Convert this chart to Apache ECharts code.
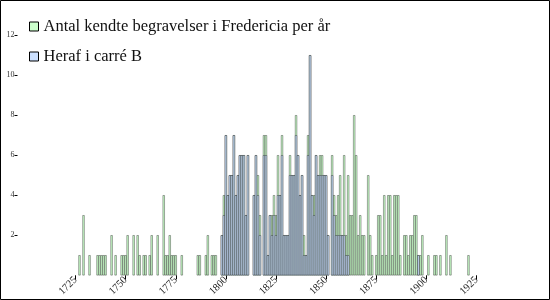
<!DOCTYPE html>
<html><head><meta charset="utf-8">
<script src="https://cdn.jsdelivr.net/npm/echarts@6/dist/echarts.min.js"></script>
<style>html,body{margin:0;padding:0;background:#fff}#c{width:550px;height:300px}</style>
</head><body><div id="c"></div>
<script>
const years = [1727,1729,1732,1736,1737,1738,1739,1740,1743,1745,1748,1749,1750,1751,1754,1756,1757,1759,1760,1762,1763,1766,1769,1770,1771,1772,1773,1774,1775,1778,1786,1787,1790,1791,1793,1794,1795,1798,1799,
1800,1801,1802,1803,1804,1805,1806,1807,1808,1809,1810,1811,1814,1815,1816,1817,1819,1820,1821,1822,1823,1824,1825,1826,1827,1828,1829,1830,1831,1832,1833,1834,1835,1836,1837,1838,1839,1840,1841,1842,1843,1844,1845,1846,1847,1848,1849,1850,1851,1853,1854,1855,1856,1857,1858,1859,1860,1861,1862,1863,1864,1865,1866,1867,1868,1869,1871,1872,1873,1875,1876,1877,1878,1879,1880,1881,1882,1883,1884,1885,1886,1887,1889,1890,1891,1892,1893,1894,1895,1896,1897,1898,1901,1904,1905,1907,1910,1912,1921];
const totalBurials = [1,3,1,1,1,1,1,1,2,1,1,1,1,2,2,2,1,1,1,1,2,2,4,1,1,2,1,1,1,1,1,1,1,2,1,1,1,2,4,
7,4,5,5,7,4,5,6,6,6,3,6,4,6,5,3,7,7,1,3,3,4,3,6,4,7,2,2,2,6,5,5,8,6,4,5,2,1,7,11,4,4,6,5,6,6,5,5,2,6,4,3,4,5,2,6,2,5,3,3,8,6,2,3,2,2,5,2,1,1,3,3,1,4,1,4,4,1,4,4,4,1,2,2,1,2,2,3,3,1,1,2,1,1,1,1,2,1,1];
const carreB = [0,0,0,0,0,0,0,0,0,0,0,0,0,0,0,0,0,0,0,0,0,0,0,0,0,0,0,0,0,0,0,0,0,0,0,0,0,2,3,
7,4,5,5,7,4,5,6,6,6,3,6,4,6,4,2,6,6,1,3,2,3,2,4,4,6,2,2,2,5,5,5,7,6,4,5,1,1,6,11,4,3,6,5,5,5,5,5,2,5,3,2,2,2,2,2,1,1,0,0,0,0,0,0,0,0,0,0,0,0,0,0,0,0,0,0,0,0,0,0,0,0,0,0,0,0,0,0,0,1,0,0,0,0,0,0,0,0];
const yTicks = [2,4,6,8,10,12];
const xTicks = [1725,1750,1775,1800,1825,1850,1875,1900,1925];
const seriesNames = ['Antal kendte begravelser i Fredericia per år', 'Heraf i carré B'];

const totalData = years.map((y,i)=>[y,totalBurials[i]]);
const bData = years.map((y,i)=>[y,carreB[i]]).filter(d=>d[1]>0);
const serif = '"Liberation Serif", "DejaVu Serif", serif';
const chart = echarts.init(document.getElementById('c'));
chart.setOption({
  animation:false,
  backgroundColor:'#fff',
  graphic:[{type:'rect',shape:{x:0.5,y:0.5,width:549,height:299},style:{fill:'none',stroke:'#000',lineWidth:1},z:100}],
  legend:{
    orient:'vertical', left:29, top:18, padding:0, itemWidth:9, itemHeight:9, itemGap:13,
    icon:'rect',
    itemStyle:{borderWidth:1,borderColor:'#000'},
    textStyle:{fontFamily:serif,fontSize:16.5,color:'#111'},
    data:seriesNames
  },
  grid:{left:75.5,right:73.5,top:35.3,bottom:24.7,containLabel:false},
  xAxis:{type:'value',min:1725,max:1925,interval:25,
    axisLine:{show:false},splitLine:{show:false},
    axisTick:{show:true,length:4,lineStyle:{color:'#000'},customValues:xTicks},
    axisLabel:{rotate:45,margin:3,fontFamily:serif,fontSize:10.5,color:'#222',customValues:xTicks,formatter:v=>String(v)}
  },
  yAxis:{type:'value',min:0,max:12,interval:2,offset:58,
    axisLine:{show:false},splitLine:{show:false},
    axisTick:{show:true,length:3,lineStyle:{color:'#000'},customValues:yTicks},
    axisLabel:{margin:3,fontFamily:serif,fontSize:8,color:'#333',customValues:yTicks,formatter:v=>String(v)}
  },
  series:[
    {name:seriesNames[0],type:'bar',data:totalData,barWidth:2,barGap:'-100%',
     itemStyle:{color:'#ccffcc',borderColor:'#000',borderWidth:0.35}},
    {name:seriesNames[1],type:'bar',data:bData,barWidth:2,barGap:'-100%',
     itemStyle:{color:'#cce0ff',borderColor:'#000',borderWidth:0.35}}
  ]
});
</script></body></html>
